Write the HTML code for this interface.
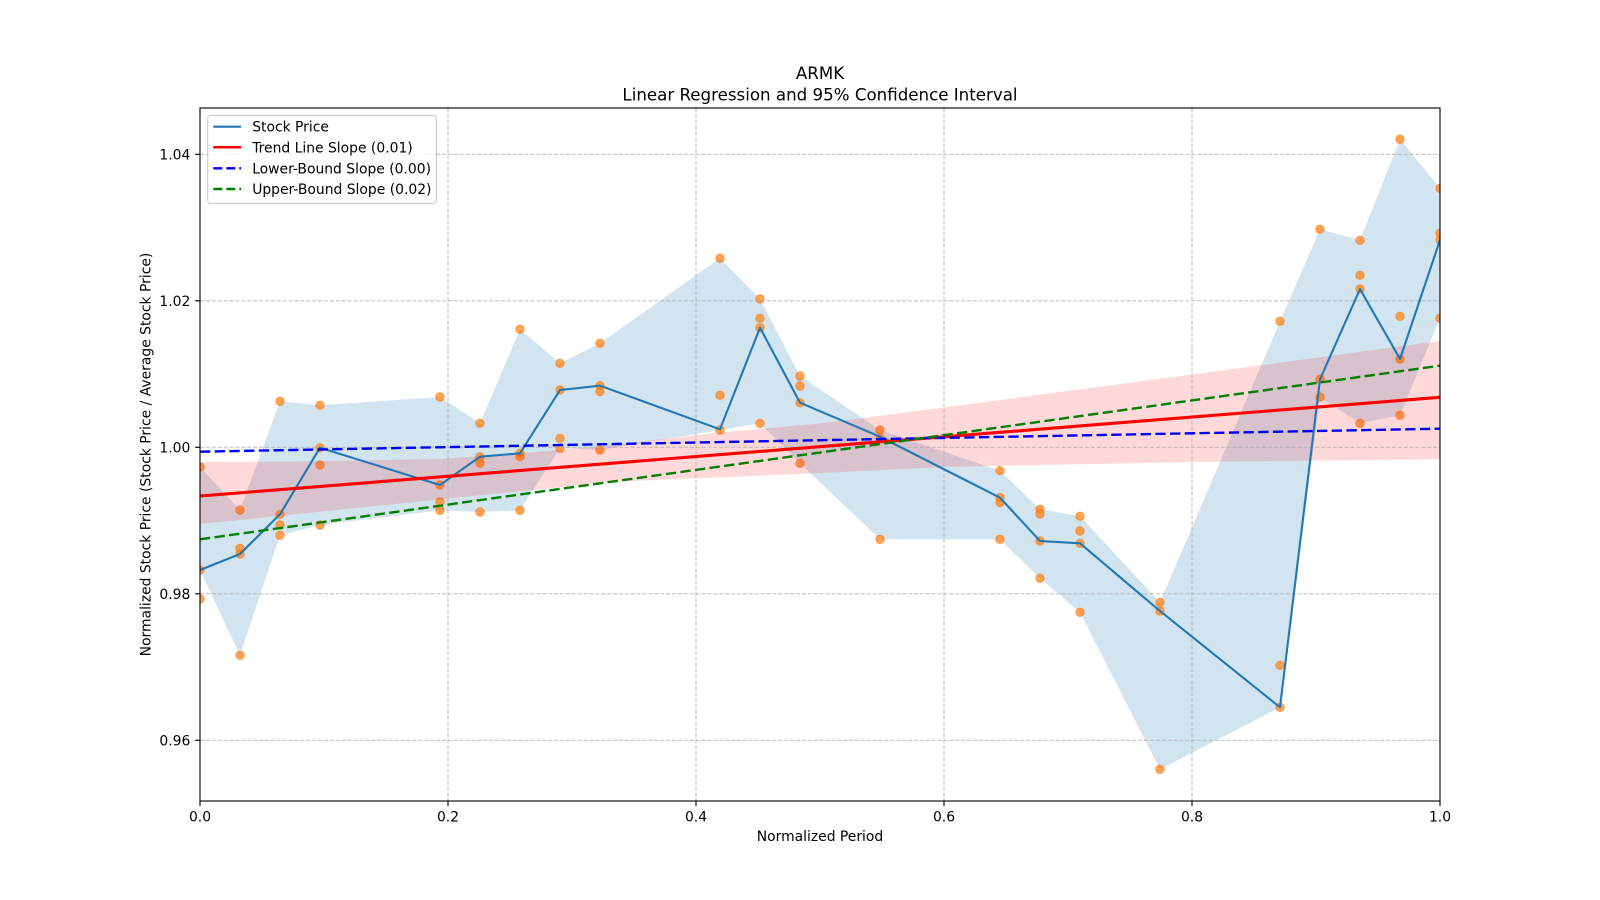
<!DOCTYPE html>
<html><head><meta charset="utf-8"><style>
html,body{margin:0;padding:0;background:#fff;}
svg{display:block;}
text{font-family:"DejaVu Sans","Liberation Sans",sans-serif;fill:#000;}
</style></head><body>
<svg width="1600" height="900" viewBox="0 0 1600 900" xmlns="http://www.w3.org/2000/svg">
<defs><clipPath id="ax"><rect x="200" y="108" width="1240" height="693"/></clipPath></defs>
<rect x="0" y="0" width="1600" height="900" fill="#fff"/>
<g clip-path="url(#ax)">
<!-- blue envelope -->
<polygon fill="#1f77b4" fill-opacity="0.2" points="200,467 240,510 280,401.3 320,405.3 440,397 480,423.3 520,329.3 560,363.3 600,343.3 720,258.3 760,299 800,376 880,430 1000,470.7 1040,509.3 1080,516.3 1160,602.3 1280,321.3 1320,229.3 1360,240.3 1400,139.3 1440,188.3 1440,318.3 1400,415.3 1360,423.3 1320,397 1280,707.3 1160,769.3 1080,612.3 1040,578.3 1000,539.3 880,539.3 800,463.3 760,423.3 720,430 600,450 560,448.3 520,510.3 480,512 440,510.3 320,525 280,535.3 240,655.3 200,570"/>
<!-- scatter -->
<g fill="#ff7f0e" fill-opacity="0.7" stroke="#ff7f0e" stroke-opacity="0.7" stroke-width="1">
<circle cx="200" cy="467" r="4.2"/><circle cx="200" cy="570" r="4.2"/><circle cx="200" cy="599" r="4.2"/>
<circle cx="240" cy="510" r="4.2"/><circle cx="240" cy="548.3" r="4.2"/><circle cx="240" cy="554" r="4.2"/><circle cx="240" cy="655.3" r="4.2"/>
<circle cx="280" cy="401.3" r="4.2"/><circle cx="280" cy="514.3" r="4.2"/><circle cx="280" cy="525" r="4.2"/><circle cx="280" cy="535.3" r="4.2"/>
<circle cx="320" cy="405.3" r="4.2"/><circle cx="320" cy="447.7" r="4.2"/><circle cx="320" cy="465" r="4.2"/><circle cx="320" cy="525" r="4.2"/>
<circle cx="440" cy="397" r="4.2"/><circle cx="440" cy="485" r="4.2"/><circle cx="440" cy="502" r="4.2"/><circle cx="440" cy="510.3" r="4.2"/>
<circle cx="480" cy="423.3" r="4.2"/><circle cx="480" cy="456.7" r="4.2"/><circle cx="480" cy="463.3" r="4.2"/><circle cx="480" cy="512" r="4.2"/>
<circle cx="520" cy="329.3" r="4.2"/><circle cx="520" cy="453.3" r="4.2"/><circle cx="520" cy="456.7" r="4.2"/><circle cx="520" cy="510.3" r="4.2"/>
<circle cx="560" cy="363.3" r="4.2"/><circle cx="560" cy="390" r="4.2"/><circle cx="560" cy="438.3" r="4.2"/><circle cx="560" cy="448.3" r="4.2"/>
<circle cx="600" cy="343.3" r="4.2"/><circle cx="600" cy="385.7" r="4.2"/><circle cx="600" cy="391.7" r="4.2"/><circle cx="600" cy="450" r="4.2"/>
<circle cx="720" cy="258.3" r="4.2"/><circle cx="720" cy="395.3" r="4.2"/><circle cx="720" cy="430" r="4.2"/>
<circle cx="760" cy="299" r="4.2"/><circle cx="760" cy="318.3" r="4.2"/><circle cx="760" cy="327.7" r="4.2"/><circle cx="760" cy="423.3" r="4.2"/>
<circle cx="800" cy="376" r="4.2"/><circle cx="800" cy="386" r="4.2"/><circle cx="800" cy="402.7" r="4.2"/><circle cx="800" cy="463.3" r="4.2"/>
<circle cx="880" cy="430" r="4.2"/><circle cx="880" cy="438.3" r="4.2"/><circle cx="880" cy="539.3" r="4.2"/>
<circle cx="1000" cy="470.7" r="4.2"/><circle cx="1000" cy="497.7" r="4.2"/><circle cx="1000" cy="502.7" r="4.2"/><circle cx="1000" cy="539.3" r="4.2"/>
<circle cx="1040" cy="509.3" r="4.2"/><circle cx="1040" cy="514" r="4.2"/><circle cx="1040" cy="541" r="4.2"/><circle cx="1040" cy="578.3" r="4.2"/>
<circle cx="1080" cy="516.3" r="4.2"/><circle cx="1080" cy="531" r="4.2"/><circle cx="1080" cy="543.3" r="4.2"/><circle cx="1080" cy="612.3" r="4.2"/>
<circle cx="1160" cy="602.3" r="4.2"/><circle cx="1160" cy="611" r="4.2"/><circle cx="1160" cy="769.3" r="4.2"/>
<circle cx="1280" cy="321.3" r="4.2"/><circle cx="1280" cy="665.3" r="4.2"/><circle cx="1280" cy="707.3" r="4.2"/>
<circle cx="1320" cy="229.3" r="4.2"/><circle cx="1320" cy="379.3" r="4.2"/><circle cx="1320" cy="397" r="4.2"/>
<circle cx="1360" cy="240.3" r="4.2"/><circle cx="1360" cy="275.3" r="4.2"/><circle cx="1360" cy="289" r="4.2"/><circle cx="1360" cy="423.3" r="4.2"/>
<circle cx="1400" cy="139.3" r="4.2"/><circle cx="1400" cy="316.3" r="4.2"/><circle cx="1400" cy="359" r="4.2"/><circle cx="1400" cy="415.3" r="4.2"/>
<circle cx="1440" cy="188.3" r="4.2"/><circle cx="1440" cy="233.3" r="4.2"/><circle cx="1440" cy="240" r="4.2"/><circle cx="1440" cy="318.3" r="4.2"/>
</g>
<!-- red CI band -->
<polygon fill="#ff0000" fill-opacity="0.15" points="200,462 300,461.5 440,459 536,452 600,446.5 714,433 820,423.5 944,407.5 1192,374.5 1440,341 1440,459.3 1192,462 944,467 820,473 610,482 400,503.5 200,524"/>
<!-- grid -->
<g stroke="#b0b0b0" stroke-opacity="0.75" stroke-width="1.1" stroke-dasharray="4.1 1.8">
<line x1="448" y1="108" x2="448" y2="801"/><line x1="696" y1="108" x2="696" y2="801"/>
<line x1="944" y1="108" x2="944" y2="801"/><line x1="1192" y1="108" x2="1192" y2="801"/>
<line x1="200" y1="154.3" x2="1440" y2="154.3"/><line x1="200" y1="300.8" x2="1440" y2="300.8"/>
<line x1="200" y1="447.3" x2="1440" y2="447.3"/><line x1="200" y1="593.8" x2="1440" y2="593.8"/>
<line x1="200" y1="740.3" x2="1440" y2="740.3"/>
</g>
<!-- stock line -->
<polyline fill="none" stroke="#1f77b4" stroke-width="2.08" stroke-linejoin="round" points="200,570 240,554 280,514.3 320,447.7 440,485 480,456.7 520,453.3 560,390 600,385.7 720,429.3 760,327.7 800,402.7 880,436.7 1000,497.7 1040,541 1080,543.3 1160,611 1280,707.3 1320,379.3 1360,289 1400,359 1440,240"/>
<!-- trend line -->
<line x1="200" y1="496" x2="1440" y2="397.3" stroke="#ff0000" stroke-width="3.1"/>
<!-- lower/upper bound -->
<line x1="200" y1="451.7" x2="1440" y2="428.7" stroke="#0000ff" stroke-width="2.4" stroke-dasharray="10.3 4.4"/>
<line x1="200" y1="539.3" x2="1440" y2="365.7" stroke="#008000" stroke-width="2.4" stroke-dasharray="10.3 4.4"/>
</g>
<!-- spines -->
<rect x="200" y="108" width="1240" height="693" fill="none" stroke="#000" stroke-width="1.11"/>
<!-- ticks -->
<g stroke="#000" stroke-width="1.11">
<line x1="200" y1="801" x2="200" y2="805.9"/><line x1="448" y1="801" x2="448" y2="805.9"/>
<line x1="696" y1="801" x2="696" y2="805.9"/><line x1="944" y1="801" x2="944" y2="805.9"/>
<line x1="1192" y1="801" x2="1192" y2="805.9"/><line x1="1440" y1="801" x2="1440" y2="805.9"/>
<line x1="195.1" y1="154.3" x2="200" y2="154.3"/><line x1="195.1" y1="300.8" x2="200" y2="300.8"/>
<line x1="195.1" y1="447.3" x2="200" y2="447.3"/><line x1="195.1" y1="593.8" x2="200" y2="593.8"/>
<line x1="195.1" y1="740.3" x2="200" y2="740.3"/>
</g>
<g font-size="13.9" text-anchor="middle">
<text x="200" y="821.7">0.0</text><text x="448" y="821.7">0.2</text><text x="696" y="821.7">0.4</text>
<text x="944" y="821.7">0.6</text><text x="1192" y="821.7">0.8</text><text x="1440" y="821.7">1.0</text>
</g>
<g font-size="13.9" text-anchor="end">
<text x="190.3" y="159.3">1.04</text><text x="190.3" y="305.8">1.02</text><text x="190.3" y="452.3">1.00</text>
<text x="190.3" y="598.8">0.98</text><text x="190.3" y="745.3">0.96</text>
</g>
<text x="820" y="841" font-size="13.9" text-anchor="middle">Normalized Period</text>
<text transform="translate(150.6,454.5) rotate(-90)" font-size="13.9" text-anchor="middle">Normalized Stock Price (Stock Price / Average Stock Price)</text>
<text x="820" y="79" font-size="16.67" text-anchor="middle">ARMK</text>
<text x="820" y="100.7" font-size="16.67" text-anchor="middle">Linear Regression and 95% Confidence Interval</text>
<!-- legend -->
<rect x="207.7" y="115.3" width="228.6" height="88" rx="2.8" ry="2.8" fill="#fff" fill-opacity="0.8" stroke="#cccccc" stroke-width="1.1"/>
<line x1="213.3" y1="126.7" x2="241.1" y2="126.7" stroke="#1f77b4" stroke-width="2.08"/>
<line x1="213.3" y1="147.3" x2="241.1" y2="147.3" stroke="#ff0000" stroke-width="2.5"/>
<line x1="213.3" y1="168.3" x2="241.1" y2="168.3" stroke="#0000ff" stroke-width="2.4" stroke-dasharray="9 4"/>
<line x1="213.3" y1="189" x2="241.1" y2="189" stroke="#008000" stroke-width="2.4" stroke-dasharray="9 4"/>
<g font-size="13.9">
<text x="252.2" y="131.7">Stock Price</text>
<text x="252.2" y="152.3">Trend Line Slope (0.01)</text>
<text x="252.2" y="173.3">Lower-Bound Slope (0.00)</text>
<text x="252.2" y="194">Upper-Bound Slope (0.02)</text>
</g>
</svg>
</body></html>
